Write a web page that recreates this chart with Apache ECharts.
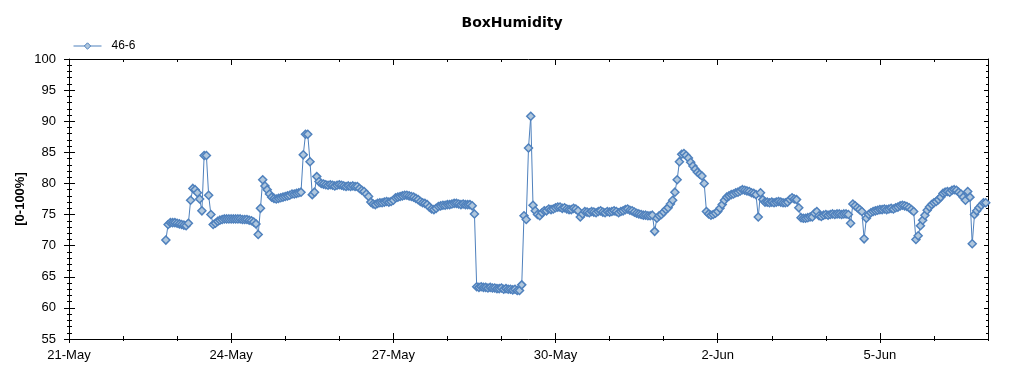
<!DOCTYPE html>
<html><head><meta charset="utf-8">
<script src="https://cdn.jsdelivr.net/npm/echarts@6/dist/echarts.min.js"></script>
<style>html,body{margin:0;padding:0;background:#fff}#c{width:1024px;height:375px}</style>
</head><body><div id="c"></div>
<script>
// ---- data ----
const chartTitle = 'BoxHumidity';
const seriesName = '46-6';
const yAxisName = '[0-100%]';
const startHour = 43; // first reading, hours after 21-May 00:00 (hourly readings)
const humidity = [
 70.9,73.4,73.7,73.7,73.7,73.6,73.5,73.4,73.3,73.2,
 73.6,77.3,79.2,79.0,78.5,77.5,75.6,84.5,84.5,78.1,
 75.0,73.4,73.6,73.9,74.1,74.2,74.3,74.3,74.3,74.3,
 74.3,74.3,74.3,74.3,74.2,74.2,74.2,74.1,74.0,73.8,
 73.5,71.8,76.0,80.6,79.6,79.0,78.3,77.8,77.6,77.5,
 77.6,77.7,77.8,77.9,78.0,78.1,78.3,78.3,78.4,78.5,
 78.6,84.6,87.9,87.9,83.5,78.2,78.6,81.1,80.3,80.0,
 79.9,79.8,79.7,79.8,79.7,79.6,79.7,79.8,79.7,79.6,
 79.5,79.6,79.5,79.6,79.5,79.5,79.2,78.9,78.7,78.3,
 77.9,77.0,76.7,76.6,76.8,76.9,76.9,77.0,77.1,77.0,
 77.1,77.3,77.7,77.8,77.9,78.0,78.1,78.1,78.0,77.9,
 77.8,77.6,77.4,77.1,76.9,76.8,76.6,76.2,75.9,75.8,
 76.0,76.3,76.4,76.5,76.5,76.6,76.6,76.7,76.8,76.8,
 76.7,76.6,76.7,76.6,76.6,76.6,76.4,75.1,63.4,63.3,
 63.4,63.3,63.3,63.2,63.3,63.2,63.2,63.1,63.1,63.2,
 63.0,63.1,63.0,63.0,62.9,63.0,62.8,62.8,63.7,74.8,
 74.2,85.7,90.8,76.5,75.6,75.0,74.8,75.3,75.6,75.6,
 75.9,75.8,75.9,76.1,76.2,76.2,76.0,76.1,75.9,75.8,
 75.8,76.0,75.9,75.6,74.6,75.1,75.5,75.4,75.3,75.5,
 75.4,75.3,75.5,75.6,75.4,75.3,75.5,75.4,75.5,75.6,
 75.5,75.3,75.5,75.6,75.8,75.9,75.7,75.6,75.4,75.2,
 75.1,75.0,74.9,74.9,74.8,74.8,74.9,72.3,74.4,74.8,
 75.0,75.4,75.8,76.1,76.7,77.3,78.6,80.6,83.5,84.7,
 84.8,84.5,84.1,83.4,82.8,82.3,81.8,81.5,81.2,80.0,
 75.5,75.1,74.9,75.0,75.2,75.5,76.0,76.6,77.3,77.8,
 78.0,78.2,78.3,78.5,78.6,78.8,79.0,78.9,78.8,78.7,
 78.5,78.4,78.2,74.6,78.5,77.4,77.0,77.0,76.9,77.0,
 76.9,77.0,77.1,77.0,76.9,76.9,77.0,77.4,77.7,77.5,
 77.4,76.1,74.5,74.4,74.4,74.5,74.6,74.6,75.2,75.5,
 74.8,74.7,74.9,75.0,74.9,75.0,75.1,75.0,75.1,75.1,
 75.0,75.1,75.1,75.0,73.6,76.7,76.4,76.1,75.8,75.5,
 71.1,74.4,75.0,75.3,75.5,75.6,75.7,75.8,75.8,75.9,
 75.8,75.9,76.0,75.9,76.1,76.2,76.4,76.5,76.4,76.3,
 76.1,75.8,75.5,71.0,71.6,73.2,74.1,74.9,75.7,76.2,
 76.6,76.9,77.1,77.4,77.8,78.4,78.6,78.7,78.6,78.9,
 79.0,78.9,78.6,78.3,77.8,77.3,78.7,77.8,70.3,75.0,
 75.6,76.1,76.5,76.9,76.9
];
const xTickHours = [0, 72, 144, 216, 288, 360];
const xTickLabels = ['21-May', '24-May', '27-May', '30-May', '2-Jun', '5-Jun'];
const xMaxHour = 408; // 7-Jun 00:00
const yMin = 55, yMax = 100, yMajor = 5, yMinor = 1;

// ---- chart ----
const points = humidity.map((v, i) => [startHour + i, v]);
const black = '#000';
const lblFont = 'Liberation Sans';
const lineColor = '#4f81bd';
const fillColor = '#b0c7dd';

function xAx(extra) {
  return Object.assign({
    type: 'value', min: 0, max: xMaxHour, interval: 24,
    axisLine: { show: false, onZero: false, lineStyle: { color: black, width: 1 } },
    axisTick: { show: false },
    axisLabel: { show: false },
    splitLine: { show: false }
  }, extra);
}
function yAx(extra) {
  return Object.assign({
    type: 'value', min: yMin, max: yMax, interval: yMajor,
    axisLine: { show: false, onZero: false, lineStyle: { color: black, width: 1 } },
    axisTick: { show: false },
    axisLabel: { show: false },
    splitLine: { show: false }
  }, extra);
}
const tickStyle = { color: black, width: 1 };

const option = {
  animation: false,
  backgroundColor: '#fff',
  title: {
    text: chartTitle, left: 'center', top: 11,
    textStyle: { fontSize: 14, fontWeight: 'bold', fontFamily: 'DejaVu Sans', color: black }
  },
  legend: {
    left: 73, top: 40, padding: 0, itemWidth: 28, itemHeight: 8,
    itemStyle: { color: fillColor, borderColor: lineColor, borderWidth: 1 },
    lineStyle: { color: lineColor, width: 1 },
    textStyle: { fontSize: 12, fontFamily: lblFont, color: black, padding: [0, 0, 0, 5] },
    data: [seriesName]
  },
  grid: { left: 69, right: 36, top: 59, bottom: 36, containLabel: false },
  xAxis: [
    xAx({ position: 'bottom',
      axisLine: { show: true, onZero: false, lineStyle: { color: black, width: 1 } },
      axisLabel: { show: true, customValues: xTickHours, margin: 10, fontSize: 13, fontFamily: lblFont, color: black,
        formatter: v => { const k = xTickHours.indexOf(v); return k >= 0 ? xTickLabels[k] : ''; } } }),
    xAx({ position: 'bottom', offset: 4, axisTick: { show: true, inside: true, length: 10, customValues: xTickHours, lineStyle: tickStyle } }),
    xAx({ position: 'bottom', offset: 2, axisTick: { show: true, inside: true, length: 5, lineStyle: tickStyle } }),
    xAx({ position: 'top',
      axisLine: { show: true, onZero: false, lineStyle: { color: black, width: 1 } },
      axisTick: { show: true, inside: true, length: 6, customValues: xTickHours, lineStyle: tickStyle } }),
    xAx({ position: 'top', axisTick: { show: true, inside: true, length: 3, lineStyle: tickStyle } })
  ],
  yAxis: [
    yAx({ position: 'left',
      axisLine: { show: true, onZero: false, lineStyle: { color: black, width: 1 } },
      axisLabel: { show: true, margin: 13, fontSize: 13, fontFamily: lblFont, color: black },
      name: yAxisName, nameLocation: 'middle', nameGap: 42, nameMoveOverlap: false,
      nameTextStyle: { fontSize: 13, fontWeight: 'bold', fontFamily: lblFont, color: black } }),
    yAx({ position: 'left', offset: 5, axisTick: { show: true, inside: true, length: 11, lineStyle: tickStyle } }),
    yAx({ position: 'left', offset: 2, interval: yMinor, axisTick: { show: true, inside: true, length: 5, lineStyle: tickStyle } }),
    yAx({ position: 'right',
      axisLine: { show: true, onZero: false, lineStyle: { color: black, width: 1 } },
      axisTick: { show: true, inside: true, length: 4, lineStyle: tickStyle } }),
    yAx({ position: 'right', interval: yMinor, axisTick: { show: true, inside: true, length: 2, lineStyle: tickStyle } })
  ],
  series: [{
    name: seriesName, type: 'line', xAxisIndex: 0, yAxisIndex: 0,
    data: points,
    symbol: 'diamond', symbolSize: 8, showSymbol: true, showAllSymbol: true,
    lineStyle: { color: lineColor, width: 1 },
    itemStyle: { color: fillColor, borderColor: lineColor, borderWidth: 1.5 },
    emphasis: { disabled: true }
  }]
};
const chart = echarts.init(document.getElementById('c'), null, { renderer: 'canvas' });
chart.setOption(option);
</script>
</body></html>
